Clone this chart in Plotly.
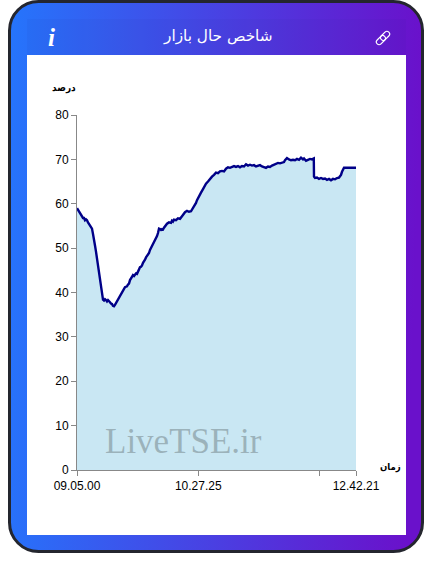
import base64
import plotly.graph_objects as go

# Chart data: sample position along the category axis and market-index percentage
readings = [
    (0, 59.0), (1, 58.6), (2, 58.2), (3, 58.0), (4, 57.4), (5, 57.2), (6, 56.8), (7, 56.8), (8, 56.3), (9, 56.5),
    (10, 56.3), (11, 55.8), (12, 55.5), (13, 55.0), (14, 54.8), (15, 54.4), (16, 53.2), (17, 52.2), (18, 50.6), (19, 49.2),
    (20, 47.6), (21, 45.8), (22, 44.2), (23, 42.4), (24, 40.8), (25, 39.4), (26, 38.4), (27, 38.2), (28, 38.5), (29, 38.3),
    (30, 38.0), (31, 38.3), (32, 37.9), (33, 37.8), (34, 37.5), (35, 37.4), (36, 37.0), (37, 36.9), (38, 37.2), (39, 37.6),
    (40, 38.1), (41, 38.4), (42, 38.7), (43, 39.2), (44, 39.7), (45, 40.1), (46, 40.6), (47, 40.8), (48, 41.2), (49, 41.3),
    (50, 41.4), (51, 41.8), (52, 42.0), (53, 42.8), (54, 43.3), (55, 43.7), (56, 43.9), (57, 43.7), (58, 44.1), (59, 44.3),
    (60, 44.2), (61, 44.8), (62, 45.2), (63, 45.7), (64, 45.8), (65, 46.1), (66, 46.7), (67, 47.0), (68, 47.4), (69, 47.9),
    (70, 48.2), (71, 48.5), (72, 48.9), (73, 49.6), (74, 50.0), (75, 50.5), (76, 50.9), (77, 51.4), (78, 51.9), (79, 52.3),
    (80, 52.7), (81, 53.4), (82, 54.4), (83, 54.3), (84, 54.1), (85, 54.3), (86, 54.2), (87, 54.6), (88, 55.0), (89, 55.2),
    (90, 55.5), (92, 55.8), (94, 55.7), (95, 56.2), (96, 56.0), (97, 56.4), (99, 56.3), (101, 56.7), (103, 56.6), (105, 57.2),
    (107, 57.8), (108, 58.1), (110, 58.4), (112, 58.2), (114, 58.3), (116, 59.0), (118, 59.6), (119, 60.2), (120, 60.8), (122, 61.5),
    (124, 62.5), (126, 63.3), (127, 63.8), (129, 64.5), (131, 65.0), (133, 65.7), (135, 66.1), (137, 66.5), (139, 67.0), (141, 66.9),
    (143, 67.3), (145, 67.4), (147, 67.3), (149, 67.9), (151, 68.2), (153, 68.1), (155, 68.4), (157, 68.5), (159, 68.3), (161, 68.5),
    (163, 68.2), (165, 68.5), (167, 68.4), (169, 68.9), (171, 68.6), (173, 68.8), (175, 68.6), (177, 68.7), (179, 68.4), (181, 68.6),
    (183, 68.7), (185, 68.4), (187, 68.3), (189, 68.1), (191, 68.4), (193, 68.3), (195, 68.6), (197, 68.8), (199, 68.9), (201, 69.2),
    (203, 69.1), (205, 69.3), (207, 69.4), (208, 69.8), (210, 70.3), (212, 70.0), (214, 69.8), (216, 69.9), (218, 69.8), (220, 70.1),
    (222, 69.9), (224, 70.4), (226, 70.0), (227, 70.2), (229, 69.7), (231, 69.9), (233, 70.1), (235, 70.0), (236.8, 70.2), (237, 66.1),
    (238, 65.8), (240, 65.9), (242, 65.6), (244, 65.8), (246, 65.6), (248, 65.7), (250, 65.4), (252, 65.6), (254, 65.3), (256, 65.6),
    (258, 65.5), (260, 65.8), (262, 65.9), (263, 66.2), (264, 66.5), (265, 67.2), (266, 67.9), (267, 68.1), (273, 68.1), (279, 68.1),
]
sample = [r[0] for r in readings]
percent = [r[1] for r in readings]
x_tick_positions = [0, 121.3, 242.5, 279]
x_tick_labels = ["09.05.00", "10.27.25", " ", "12.42.21"]
y_ticks = [0, 10, 20, 30, 40, 50, 60, 70, 80]

W, H = 433, 574
L, R, T, B = 77, 356, 115, 470


def px(x):
    return (x - L) / (R - L)


def py(y):
    return (B - y) / (B - T)


card_svg = f"""<svg xmlns="http://www.w3.org/2000/svg" width="{W}" height="{H}" viewBox="0 0 {W} {H}">
<defs><linearGradient id="g" x1="0" y1="0" x2="1" y2="0.04">
<stop offset="0" stop-color="#2575fc"/><stop offset="1" stop-color="#6a11cb"/></linearGradient></defs>
<rect x="9.5" y="1.5" width="413" height="550" rx="29" ry="29" fill="url(#g)" stroke="#24262e" stroke-width="3"/>
</svg>"""
card_uri = "data:image/svg+xml;base64," + base64.b64encode(card_svg.encode()).decode()

fig = go.Figure()
fig.add_trace(go.Scatter(
    x=sample, y=percent, mode="lines", fill="tozeroy",
    fillcolor="#c9e7f3", line=dict(color="#000088", width=2.4), hoverinfo="skip",
))


def annot(text, x, y, size, color, family, **kw):
    fig.add_annotation(text=text, x=px(x), y=py(y), xref="paper", yref="paper",
                       showarrow=False, xanchor="center", yanchor="middle",
                       font=dict(size=size, color=color, family=family), **kw)


annot("شاخص حال بازار", 217.5, 35.5, 15.3, "white", "DejaVu Sans")
annot("<b><i>i</i></b>", 51, 37, 25, "white", "Liberation Serif")
annot("<b>درصد</b>", 63.5, 88, 10, "black", "DejaVu Sans Condensed")
annot("<b>زمان</b>", 390, 467, 9.5, "black", "DejaVu Sans Condensed")
annot("LiveTSE.ir", 183.5, 441, 35, "rgba(110,125,130,0.5)", "Liberation Serif")

shapes = [
    dict(type="rect", xref="paper", yref="paper", layer="below",
         x0=px(27), x1=px(406), y0=py(19), y1=py(55),
         fillcolor="rgba(40,30,130,0.05)", line_width=0),
    dict(type="rect", xref="paper", yref="paper", layer="below",
         x0=px(27), x1=px(406), y0=py(55), y1=py(535),
         fillcolor="white", line_width=0),
]


def link(cx, cy):
    # Two interlocked capsules along the 45-degree diagonal
    def capsule(ox, oy):
        a = 1.8
        r = 2.7
        x1, y1 = cx + ox - a, cy + oy + a
        x2, y2 = cx + ox + a, cy + oy - a
        d = r * 0.7071
        p = (f"M {px(x1 - d)} {py(y1 - d)} L {px(x2 - d)} {py(y2 - d)} "
             f"Q {px(x2)} {py(y2 - 2 * d)} {px(x2 + d)} {py(y2 - d)} "
             f"Q {px(x2 + 2 * d)} {py(y2)} {px(x2 + d)} {py(y2 + d)} "
             f"L {px(x1 + d)} {py(y1 + d)} "
             f"Q {px(x1)} {py(y1 + 2 * d)} {px(x1 - d)} {py(y1 + d)} "
             f"Q {px(x1 - 2 * d)} {py(y1)} {px(x1 - d)} {py(y1 - d)} Z")
        return dict(type="path", xref="paper", yref="paper", path=p,
                    line=dict(color="white", width=1.2), fillcolor="rgba(0,0,0,0)")
    return [capsule(-2.1, 2.1), capsule(2.1, -2.1)]


shapes += link(383, 38)

axis_common = dict(showgrid=False, zeroline=False, showline=True, linecolor="#888888", linewidth=1,
                   ticks="outside", tickcolor="#888888", ticklen=5, tickwidth=1,
                   tickfont=dict(family="Liberation Sans", size=12, color="black"))

fig.update_layout(
    width=W, height=H, autosize=False, showlegend=False,
    margin=dict(l=L, r=W - R, t=T, b=H - B, pad=0),
    paper_bgcolor="white", plot_bgcolor="rgba(0,0,0,0)",
    xaxis=dict(range=[0, 279], tickmode="array", tickvals=x_tick_positions,
               ticktext=x_tick_labels, tickangle=0, **axis_common),
    yaxis=dict(range=[0, 80], tickmode="array", tickvals=y_ticks, **axis_common),
    shapes=shapes,
    images=[dict(source=card_uri, xref="paper", yref="paper", x=px(0), y=py(0),
                 sizex=W / (R - L), sizey=H / (B - T), xanchor="left", yanchor="top",
                 sizing="stretch", layer="below")],
)

fig.write_html("out.html", config=dict(displayModeBar=False, responsive=False),
               post_script="document.body.style.margin='0';document.documentElement.style.overflow='hidden';")
